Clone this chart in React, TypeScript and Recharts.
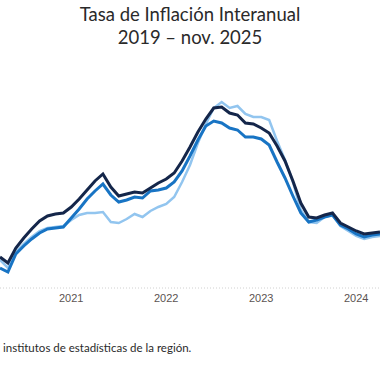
import { LineChart, Line, XAxis, YAxis, CartesianGrid } from 'recharts';

// meses visibles en el recorte: abr 2020 .. abr 2024
const MONTHS = [
  'abr-20', 'may-20', 'jun-20', 'jul-20', 'ago-20', 'sep-20', 'oct-20', 'nov-20', 'dic-20',
  'ene-21', 'feb-21', 'mar-21', 'abr-21', 'may-21', 'jun-21', 'jul-21', 'ago-21', 'sep-21', 'oct-21', 'nov-21', 'dic-21',
  'ene-22', 'feb-22', 'mar-22', 'abr-22', 'may-22', 'jun-22', 'jul-22', 'ago-22', 'sep-22', 'oct-22', 'nov-22', 'dic-22',
  'ene-23', 'feb-23', 'mar-23', 'abr-23', 'may-23', 'jun-23', 'jul-23', 'ago-23', 'sep-23', 'oct-23', 'nov-23', 'dic-23',
  'ene-24', 'feb-24', 'mar-24', 'abr-24',
];

const SERIE_OSCURA = [
  1.55, 1.25, 2.0, 2.5, 2.95, 3.35, 3.6, 3.7, 3.75,
  4.05, 4.45, 4.9, 5.35, 5.7, 5.05, 4.6, 4.7, 4.8, 4.75, 5.0, 5.25,
  5.45, 5.75, 6.35, 7.05, 7.8, 8.45, 9.0, 9.05, 8.75, 8.65, 8.25, 8.2,
  8.0, 7.75, 7.1, 6.35, 5.35, 4.25, 3.55, 3.5, 3.65, 3.75, 3.25, 3.05,
  2.85, 2.7, 2.75, 2.8,
];

const SERIE_MEDIA = [
  1.0, 0.8, 1.7, 2.1, 2.45, 2.75, 2.95, 3.0, 3.05,
  3.5, 3.95, 4.45, 4.85, 5.2, 4.65, 4.3, 4.4, 4.55, 4.5, 4.85, 4.9,
  5.0, 5.3, 5.85, 6.6, 7.4, 8.1, 8.35, 8.25, 8.0, 7.9, 7.55, 7.55,
  7.45, 7.15, 6.3, 5.5, 4.6, 3.75, 3.3, 3.4, 3.55, 3.65, 3.15, 2.95,
  2.7, 2.55, 2.65, 2.7,
];

const SERIE_CLARA = [
  1.4, 1.0, 1.8, 2.2, 2.55, 2.85, 3.0, 3.05, 3.1,
  3.4, 3.65, 3.75, 3.75, 3.8, 3.3, 3.25, 3.45, 3.7, 3.55, 3.85, 4.05,
  4.2, 4.55, 5.3, 6.15, 7.25, 8.2, 9.0, 9.3, 9.0, 9.1, 8.7, 8.55,
  8.55, 8.4, 7.35, 6.4, 5.3, 3.9, 3.3, 3.25, 3.55, 3.65, 3.1, 2.85,
  2.6, 2.45, 2.55, 2.6,
];

const YEAR_TICKS = ['ene-21', 'ene-22', 'ene-23', 'ene-24'];
const YEAR_LABELS = ['2021', '2022', '2023', '2024'];

const data = MONTHS.map((mes, i) => ({
  idx: i,
  mes,
  oscura: SERIE_OSCURA[i],
  media: SERIE_MEDIA[i],
  clara: SERIE_CLARA[i],
}));

const tickIdx = YEAR_TICKS.map((t) => MONTHS.indexOf(t));

export default function App() {
  return (
    <div
      style={{
        position: 'absolute',
        left: 0,
        top: 0,
        width: 380,
        height: 380,
        overflow: 'hidden',
        background: '#fff',
      }}
    >
      <div
        style={{
          position: 'absolute',
          top: 3,
          left: 0,
          width: 380,
          textAlign: 'center',
          fontFamily: 'Lato, sans-serif',
          fontSize: 18.5,
          lineHeight: '23px',
          color: '#2a2a2a',
        }}
      >
        <div>Tasa de Inflación Interanual</div>
        <div>2019 – nov. 2025</div>
      </div>
      <div style={{ position: 'absolute', top: 0, left: 0 }}>
        <LineChart width={380} height={318} data={data} margin={{ top: 88, right: 0, left: 0, bottom: 0 }}>
          <CartesianGrid horizontal={false} vertical={false} />
          <XAxis
            dataKey="idx"
            type="number"
            domain={[0, MONTHS.length - 1]}
            ticks={tickIdx}
            tickFormatter={(v) => YEAR_LABELS[tickIdx.indexOf(v)] ?? ''}
            height={30}
            tickLine={false}
            tickMargin={0}
            axisLine={{ stroke: '#d0d0d0', strokeDasharray: '1 2' }}
            tick={{ fontSize: 11, fill: '#5b5352', fontFamily: 'Liberation Sans, sans-serif' }}
          />
          <YAxis hide domain={[0, 10]} />
          <Line
            type="linear"
            dataKey="clara"
            stroke="#92c5ef"
            strokeWidth={2.5}
            dot={false}
            isAnimationActive={false}
          />
          <Line
            type="linear"
            dataKey="media"
            stroke="#1874c4"
            strokeWidth={3}
            dot={false}
            isAnimationActive={false}
          />
          <Line
            type="linear"
            dataKey="oscura"
            stroke="#14264a"
            strokeWidth={3}
            dot={false}
            isAnimationActive={false}
          />
        </LineChart>
      </div>
      <div
        style={{
          position: 'absolute',
          top: 341,
          left: 3,
          fontFamily: 'Lato, sans-serif',
          fontSize: 11.5,
          color: '#2a2a2a',
          whiteSpace: 'nowrap',
        }}
      >
        institutos de estadísticas de la región.
      </div>
    </div>
  );
}
